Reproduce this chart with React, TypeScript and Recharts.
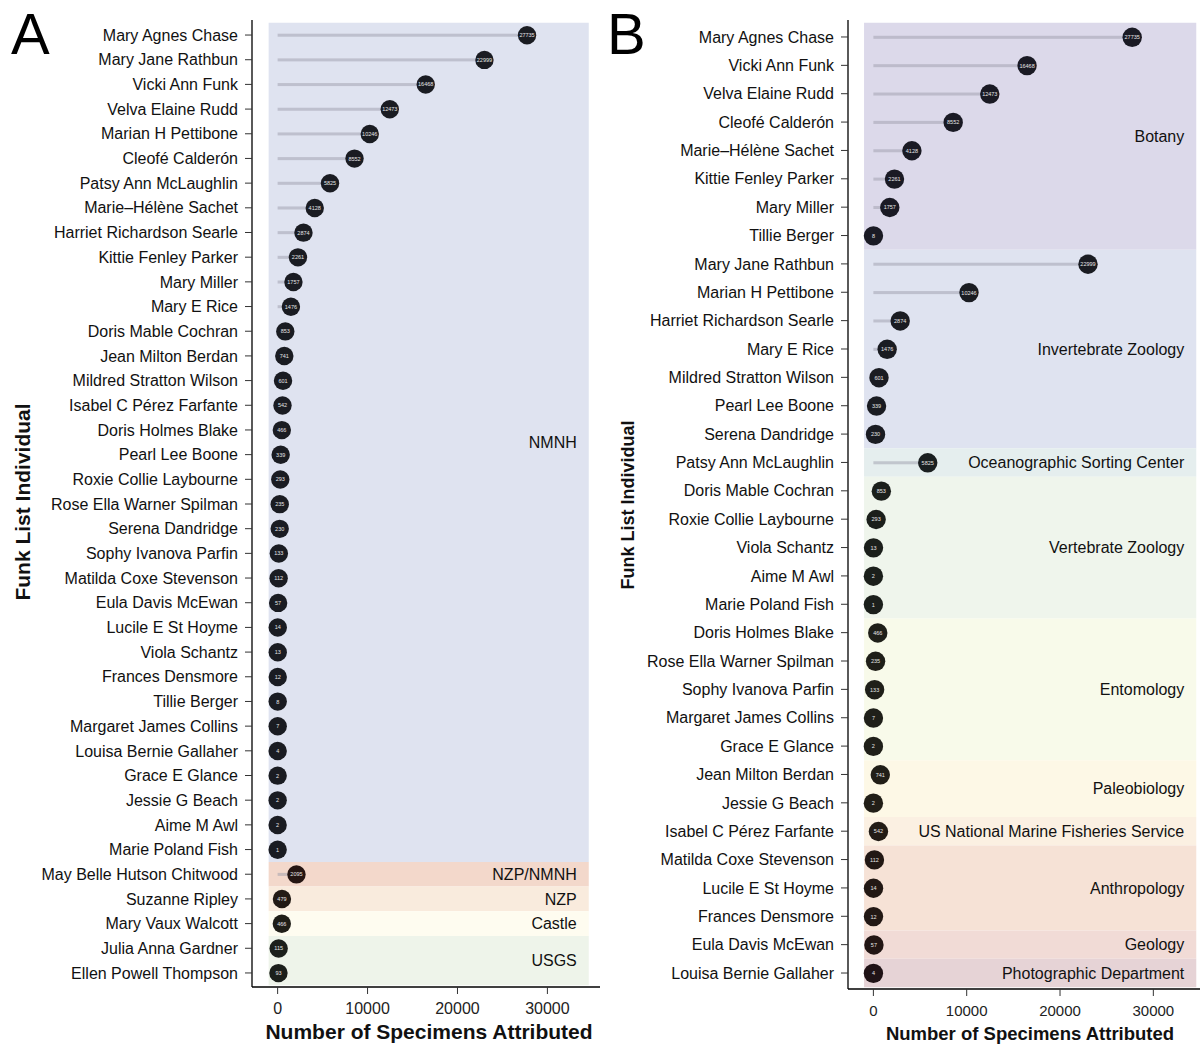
import { Bar, ComposedChart, ReferenceArea, XAxis, YAxis } from "recharts";

// Panel A: everyone, sorted by count, grouped by unit
const namesA = [
  "Mary Agnes Chase",
  "Mary Jane Rathbun",
  "Vicki Ann Funk",
  "Velva Elaine Rudd",
  "Marian H Pettibone",
  "Cleofé Calderón",
  "Patsy Ann McLaughlin",
  "Marie–Hélène Sachet",
  "Harriet Richardson Searle",
  "Kittie Fenley Parker",
  "Mary Miller",
  "Mary E Rice",
  "Doris Mable Cochran",
  "Jean Milton Berdan",
  "Mildred Stratton Wilson",
  "Isabel C Pérez Farfante",
  "Doris Holmes Blake",
  "Pearl Lee Boone",
  "Roxie Collie Laybourne",
  "Rose Ella Warner Spilman",
  "Serena Dandridge",
  "Sophy Ivanova Parfin",
  "Matilda Coxe Stevenson",
  "Eula Davis McEwan",
  "Lucile E St Hoyme",
  "Viola Schantz",
  "Frances Densmore",
  "Tillie Berger",
  "Margaret James Collins",
  "Louisa Bernie Gallaher",
  "Grace E Glance",
  "Jessie G Beach",
  "Aime M Awl",
  "Marie Poland Fish",
  "May Belle Hutson Chitwood",
  "Suzanne Ripley",
  "Mary Vaux Walcott",
  "Julia Anna Gardner",
  "Ellen Powell Thompson",
];
const valuesA = [
  27735, 22999, 16468, 12473, 10246, 8552, 5825, 4128, 2874, 2261, 1757, 1476,
  853, 741, 601, 542, 466, 339, 293, 235, 230, 133, 112, 57, 14, 13, 12, 8, 7,
  4, 2, 2, 2, 1, 2095, 479, 466, 115, 93,
];
const unitsA = ["NMNH", "NZP/NMNH", "NZP", "Castle", "USGS"];
const unitSizesA = [34, 1, 1, 1, 2];

// Panel B: NMNH people only, grouped by department
const namesB = [
  "Mary Agnes Chase",
  "Vicki Ann Funk",
  "Velva Elaine Rudd",
  "Cleofé Calderón",
  "Marie–Hélène Sachet",
  "Kittie Fenley Parker",
  "Mary Miller",
  "Tillie Berger",
  "Mary Jane Rathbun",
  "Marian H Pettibone",
  "Harriet Richardson Searle",
  "Mary E Rice",
  "Mildred Stratton Wilson",
  "Pearl Lee Boone",
  "Serena Dandridge",
  "Patsy Ann McLaughlin",
  "Doris Mable Cochran",
  "Roxie Collie Laybourne",
  "Viola Schantz",
  "Aime M Awl",
  "Marie Poland Fish",
  "Doris Holmes Blake",
  "Rose Ella Warner Spilman",
  "Sophy Ivanova Parfin",
  "Margaret James Collins",
  "Grace E Glance",
  "Jean Milton Berdan",
  "Jessie G Beach",
  "Isabel C Pérez Farfante",
  "Matilda Coxe Stevenson",
  "Lucile E St Hoyme",
  "Frances Densmore",
  "Eula Davis McEwan",
  "Louisa Bernie Gallaher",
];
const departmentsB = [
  "Botany",
  "Invertebrate Zoology",
  "Oceanographic Sorting Center",
  "Vertebrate Zoology",
  "Entomology",
  "Paleobiology",
  "US National Marine Fisheries Service",
  "Anthropology",
  "Geology",
  "Photographic Department",
];
const departmentSizesB = [8, 7, 1, 5, 5, 2, 1, 3, 1, 1];
const valuesB = namesB.map((n) => valuesA[namesA.indexOf(n)]);

const xTicks = [0, 10000, 20000, 30000];

// styling kept apart from the data
const bandFill: Record<string, string> = {
  NMNH: "#dfe3f0",
  "NZP/NMNH": "#f3d8cb",
  NZP: "#f9ebdd",
  Castle: "#fefcf0",
  USGS: "#eef4ea",
  Botany: "#dcd9ea",
  "Invertebrate Zoology": "#dfe3f0",
  "Oceanographic Sorting Center": "#e5eeee",
  "Vertebrate Zoology": "#eff5ec",
  Entomology: "#f8faea",
  Paleobiology: "#fdf8e6",
  "US National Marine Fisheries Service": "#fbf0e2",
  Anthropology: "#f6e2d6",
  Geology: "#f1dbd6",
  "Photographic Department": "#e6d3d6",
};
const dotFill: Record<string, string> = {
  NMNH: "#1a1c22",
  "NZP/NMNH": "#251512",
  NZP: "#221a15",
  Castle: "#1f1e18",
  USGS: "#1b1f1b",
  Botany: "#1a1a24",
  "Invertebrate Zoology": "#1a1c22",
  "Oceanographic Sorting Center": "#1a1f20",
  "Vertebrate Zoology": "#1b1f1b",
  Entomology: "#1f1f19",
  Paleobiology: "#211e17",
  "US National Marine Fisheries Service": "#221c16",
  Anthropology: "#221814",
  Geology: "#221614",
  "Photographic Department": "#1f1216",
};

const FONT = '"Liberation Sans", Arial, Helvetica, sans-serif';

type Row = { name: string; value: number; group: string };

const buildRows = (
  names: string[],
  values: number[],
  groups: string[],
  sizes: number[]
) => {
  const rows: Row[] = [];
  const spans: { group: string; first: string; last: string }[] = [];
  let k = 0;
  groups.forEach((g, gi) => {
    const first = names[k];
    for (let j = 0; j < sizes[gi]; j++) {
      rows.push({ name: names[k], value: values[k], group: g });
      k++;
    }
    spans.push({ group: g, first, last: names[k - 1] });
  });
  return { rows, spans };
};

const Lollipop = (props: any) => {
  const { x, y, width, height, payload, r } = props;
  const cy = y + height / 2;
  const cx = x + width;
  return (
    <g>
      <rect
        x={x}
        y={cy - 1.5}
        width={Math.max(width, 0)}
        height={3}
        fill="#9d9eab"
        fillOpacity={0.5}
      />
      <circle cx={cx} cy={cy} r={r} fill={dotFill[payload.group]} />
      <text
        x={cx}
        y={cy}
        dy="0.35em"
        textAnchor="middle"
        fontSize={5.5}
        fill="#e6e6e6"
        fontFamily={FONT}
      >
        {payload.value}
      </text>
    </g>
  );
};

type PanelProps = {
  rows: Row[];
  spans: { group: string; first: string; last: string }[];
  axisWidth: number;
  domain: [number, number];
  xAxisHeight: number;
  padTop: number;
  padBottom: number;
  r: number;
  xTickSize: number;
};

const Panel = ({
  rows,
  spans,
  axisWidth,
  domain,
  xAxisHeight,
  padTop,
  padBottom,
  r,
  xTickSize,
}: PanelProps) => (
  <ComposedChart
    width={600}
    height={1047}
    data={rows}
    layout="vertical"
    margin={{ top: 20, right: 0, left: 0, bottom: 0 }}
  >
    {spans.map((s) => (
      <ReferenceArea
        key={s.group}
        y1={s.first}
        y2={s.last}
        x1={-1000}
        x2={34600}
        fill={bandFill[s.group]}
        fillOpacity={1}
        stroke="none"
        ifOverflow="visible"
        label={{
          value: s.group,
          position: "insideRight",
          offset: 12,
          fill: "#111",
          fontSize: 16,
          fontFamily: FONT,
        }}
      />
    ))}
    <XAxis
      type="number"
      dataKey="value"
      domain={domain}
      allowDataOverflow
      ticks={xTicks}
      height={xAxisHeight}
      tickSize={7}
      tickMargin={9}
      stroke="#000"
      strokeWidth={1.3}
      tick={{ fill: "#222", fontSize: xTickSize, fontFamily: FONT }}
      tickLine={{ stroke: "#333", strokeWidth: 1 }}
    />
    <YAxis
      type="category"
      dataKey="name"
      width={axisWidth}
      interval={0}
      tickSize={7}
      tickMargin={7}
      padding={{ top: padTop, bottom: padBottom }}
      stroke="#000"
      strokeWidth={1.3}
      tick={{ fill: "#111", fontSize: 16, fontFamily: FONT }}
      tickLine={{ stroke: "#333", strokeWidth: 1 }}
    />
    <Bar
      dataKey="value"
      barSize={3}
      isAnimationActive={false}
      shape={(p: any) => <Lollipop {...p} r={r} />}
    />
  </ComposedChart>
);

export default function App() {
  const a = buildRows(namesA, valuesA, unitsA, unitSizesA);
  const b = buildRows(namesB, valuesB, departmentsB, departmentSizesB);
  return (
    <div
      style={{
        position: "absolute",
        left: 0,
        top: 0,
        width: 1200,
        height: 1047,
        background: "#fff",
        fontFamily: FONT,
        overflow: "hidden",
      }}
    >
      <div style={{ position: "absolute", left: 0, top: 0 }}>
        <Panel
          rows={a.rows}
          spans={a.spans}
          axisWidth={252}
          domain={[-2850, 35850]}
          xAxisHeight={60}
          padTop={2.7}
          padBottom={1.7}
          r={9.2}
          xTickSize={16}
        />
      </div>
      <div style={{ position: "absolute", left: 600, top: 0 }}>
        <Panel
          rows={b.rows}
          spans={b.spans}
          axisWidth={248}
          domain={[-2720, 35000]}
          xAxisHeight={58}
          padTop={2.8}
          padBottom={1.8}
          r={9.7}
          xTickSize={15}
        />
      </div>
      <svg
        width={1200}
        height={1047}
        style={{ position: "absolute", left: 0, top: 0, pointerEvents: "none" }}
        fontFamily={FONT}
      >
        <text x={11} y={54} fontSize={58} fill="#000">
          A
        </text>
        <text x={607} y={54} fontSize={58} fill="#000">
          B
        </text>
        <text
          x={429}
          y={1039}
          fontSize={21}
          fontWeight="bold"
          textAnchor="middle"
          fill="#111"
        >
          Number of Specimens Attributed
        </text>
        <text
          x={1030}
          y={1040}
          fontSize={18.5}
          fontWeight="bold"
          textAnchor="middle"
          fill="#111"
        >
          Number of Specimens Attributed
        </text>
        <text
          x={30}
          y={502}
          fontSize={21}
          fontWeight="bold"
          textAnchor="middle"
          fill="#111"
          transform="rotate(-90 30 502)"
        >
          Funk List Individual
        </text>
        <text
          x={634}
          y={505}
          fontSize={18}
          fontWeight="bold"
          textAnchor="middle"
          fill="#111"
          transform="rotate(-90 634 505)"
        >
          Funk List Individual
        </text>
      </svg>
    </div>
  );
}
